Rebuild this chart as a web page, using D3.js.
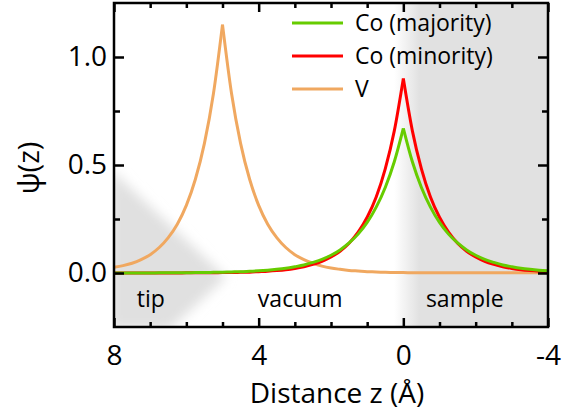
<!DOCTYPE html>
<html>
<head>
<meta charset="utf-8">
<script src="https://cdn.jsdelivr.net/npm/d3@7"></script>
<style>
  body { margin: 0; background: #fff; }
  text { font-family: "Open Sans", sans-serif; fill: #000; }
</style>
</head>
<body>
<div id="chart"></div>
<script>
// distance z in Angstrom (tip on the left, sample on the right)
var zPoints = [8, 7.75, 7.5, 7.25, 7, 6.75, 6.5, 6.25, 6, 5.75, 5.5, 5.25, 5,
  4.75, 4.5, 4.25, 4, 3.75, 3.5, 3.25, 3, 2.75, 2.5, 2.25, 2, 1.75, 1.5, 1.25, 1,
  0.75, 0.5, 0.25, 0,
  -0.25, -0.5, -0.75, -1, -1.25, -1.5, -1.75, -2, -2.25, -2.5, -2.75, -3, -3.25, -3.5, -3.75, -4];

var coMajority = [0, 0, 0, 0, 0, 0.001, 0.001, 0.001, 0.001, 0.002, 0.002, 0.003, 0.004,
  0.005, 0.006, 0.008, 0.010, 0.013, 0.017, 0.022, 0.029, 0.037, 0.049, 0.063, 0.082,
  0.107, 0.139, 0.180, 0.234, 0.305, 0.396, 0.515, 0.67,
  0.515, 0.396, 0.305, 0.234, 0.180, 0.139, 0.107, 0.082, 0.063, 0.049, 0.037, 0.029,
  0.022, 0.017, 0.013, 0.010];

var coMinority = [0, 0, 0, 0, 0, 0, 0, 0, 0.001, 0.001, 0.001, 0.001, 0.002,
  0.002, 0.003, 0.004, 0.006, 0.008, 0.011, 0.015, 0.021, 0.029, 0.040, 0.054, 0.074,
  0.101, 0.138, 0.189, 0.258, 0.352, 0.482, 0.658, 0.90,
  0.658, 0.482, 0.352, 0.258, 0.189, 0.138, 0.101, 0.074, 0.054, 0.040, 0.029, 0.021,
  0.015, 0.011, 0.008, 0.006];

var vTip = [0.026, 0.034, 0.045, 0.062, 0.085, 0.118, 0.164, 0.226, 0.313, 0.434, 0.600, 0.831, 1.15,
  0.831, 0.600, 0.434, 0.313, 0.226, 0.164, 0.118, 0.085, 0.062, 0.045,
  0.032, 0.023, 0.017, 0.012, 0.009, 0.006, 0.005, 0.003, 0.002, 0.002,
  0.001, 0.001, 0.001, 0.001, 0.001, 0.001, 0.001, 0.001, 0.001, 0.001, 0.001, 0.001,
  0.001, 0.001, 0.001, 0.001];

var seriesNames = ["Co (majority)", "Co (minority)", "V"];
var seriesColors = ["#66cc00", "#ff0000", "#f0a860"];
var xMajorTicks = [8, 4, 0, -4];
var xMinorTicks = [7, 6, 5, 3, 2, 1, -1, -2, -3];
var yMajorTicks = [0, 0.5, 1.0];
var yMinorTicks = [0.25, 0.75];
var regionLabels = [{ name: "tip", z: 6.98 }, { name: "vacuum", z: 2.85 }, { name: "sample", z: -1.7 }];

var w = 562, h = 417;
var mLeft = 114, mRight = 548, mTop = 3, mBottom = 327;

var svg = d3.select("#chart").append("svg")
  .attr("width", w)
  .attr("height", h);

var x = d3.scaleLinear().domain([8, -4]).range([mLeft, mRight]);
var y = d3.scaleLinear().domain([-0.25, 1.25]).range([mBottom, mTop]);

var defs = svg.append("defs");
defs.append("clipPath").attr("id", "plot")
  .append("rect")
  .attr("x", mLeft).attr("y", mTop)
  .attr("width", mRight - mLeft).attr("height", mBottom - mTop);

var grad = defs.append("linearGradient")
  .attr("id", "sampleGrad")
  .attr("gradientUnits", "userSpaceOnUse")
  .attr("x1", x(0.25)).attr("x2", x(-0.45))
  .attr("y1", 0).attr("y2", 0);
grad.append("stop").attr("offset", 0).attr("stop-color", "#ffffff");
grad.append("stop").attr("offset", 1).attr("stop-color", "#e1e1e1");

defs.append("filter").attr("id", "soft")
  .attr("x", "-50%").attr("y", "-50%").attr("width", "200%").attr("height", "200%")
  .append("feGaussianBlur").attr("stdDeviation", 6);

var plot = svg.append("g").attr("clip-path", "url(#plot)");

// sample side shading
plot.append("rect")
  .attr("x", x(0.3))
  .attr("y", mTop)
  .attr("width", mRight - x(0.3))
  .attr("height", mBottom - mTop)
  .attr("fill", "url(#sampleGrad)");

// tip wedge, apex at the V atom
var tipShape = [[8.1, 0.48], [4.9, -0.02], [6.45, -0.26], [8.1, -0.26]];
plot.append("path")
  .attr("d", "M" + tipShape.map(function(p) { return [x(p[0]), y(p[1])]; }).join("L") + "Z")
  .attr("fill", "#e0e0e0")
  .attr("filter", "url(#soft)");

// curves: each wavefunction has a cusp at its atom, so draw both branches
var line = d3.line()
  .x(function(d) { return x(d[0]); })
  .y(function(d) { return y(d[1]); })
  .curve(d3.curveMonotoneX);

function drawSeries(values, color) {
  var pts = zPoints.map(function(z, i) { return [z, values[i]]; });
  var peak = d3.maxIndex(values);
  [pts.slice(0, peak + 1), pts.slice(peak)].forEach(function(branch) {
    plot.append("path")
      .attr("d", line(branch))
      .attr("fill", "none")
      .attr("stroke", color)
      .attr("stroke-width", 3);
  });
}

drawSeries(vTip, seriesColors[2]);
drawSeries(coMinority, seriesColors[1]);
drawSeries(coMajority, seriesColors[0]);

// region labels
svg.selectAll(".region")
  .data(regionLabels)
  .enter().append("text")
  .attr("class", "region")
  .attr("x", function(d) { return x(d.z); })
  .attr("y", 307)
  .attr("text-anchor", "middle")
  .style("font-size", "23px")
  .text(function(d) { return d.name; });

// frame
svg.append("rect")
  .attr("x", mLeft).attr("y", mTop)
  .attr("width", mRight - mLeft).attr("height", mBottom - mTop)
  .attr("fill", "none")
  .attr("stroke", "#000")
  .attr("stroke-width", 2.5);

function ticks(axis, values, size, labels) {
  axis.tickValues(values).tickSizeInner(-size).tickSizeOuter(0);
  if (!labels) axis.tickFormat("");
  return axis;
}

function styleAxis(g) {
  g.selectAll(".domain").remove();
  g.selectAll(".tick line").attr("stroke", "#000").attr("stroke-width", 2.5);
  g.selectAll(".tick text").style("font-size", "28px").attr("fill", "#000");
}

var xAxisB = svg.append("g").attr("transform", "translate(0," + mBottom + ")");
xAxisB.call(ticks(d3.axisBottom(x), xMajorTicks, 9, true).tickPadding(18)
  .tickFormat(function(d) { return String(d); }));
xAxisB.append("g").call(ticks(d3.axisBottom(x), xMinorTicks, 5, false));
xAxisB.call(styleAxis);

var xAxisT = svg.append("g").attr("transform", "translate(0," + mTop + ")");
xAxisT.call(ticks(d3.axisTop(x), xMajorTicks, 9, false));
xAxisT.append("g").call(ticks(d3.axisTop(x), xMinorTicks, 5, false));
xAxisT.call(styleAxis);

var yAxisL = svg.append("g").attr("transform", "translate(" + mLeft + ",0)");
yAxisL.call(ticks(d3.axisLeft(y), yMajorTicks, 10, true).tickPadding(7).tickFormat(d3.format(".1f")));
yAxisL.append("g").call(ticks(d3.axisLeft(y), yMinorTicks, 6, false));
yAxisL.call(styleAxis);

var yAxisR = svg.append("g").attr("transform", "translate(" + mRight + ",0)");
yAxisR.call(ticks(d3.axisRight(y), yMajorTicks, 10, false));
yAxisR.append("g").call(ticks(d3.axisRight(y), yMinorTicks, 6, false));
yAxisR.call(styleAxis);

// axis titles
svg.append("text")
  .attr("x", x(2) + 6)
  .attr("y", 403)
  .attr("text-anchor", "middle")
  .style("font-size", "28px")
  .text("Distance z (Å)");

svg.append("text")
  .attr("transform", "translate(39,168) rotate(-90)")
  .attr("text-anchor", "middle")
  .style("font-size", "29px")
  .text("ψ(z)");

// legend
var legend = svg.append("g").selectAll("g")
  .data(seriesNames)
  .enter().append("g")
  .attr("transform", function(d, i) { return "translate(292," + (23 + i * 33) + ")"; });

legend.append("line")
  .attr("x1", 0).attr("x2", 51)
  .attr("stroke", function(d, i) { return seriesColors[i]; })
  .attr("stroke-width", 3);

legend.append("text")
  .attr("x", 63)
  .attr("dy", "0.35em")
  .style("font-size", "23px")
  .text(function(d) { return d; });
</script>
</body>
</html>
